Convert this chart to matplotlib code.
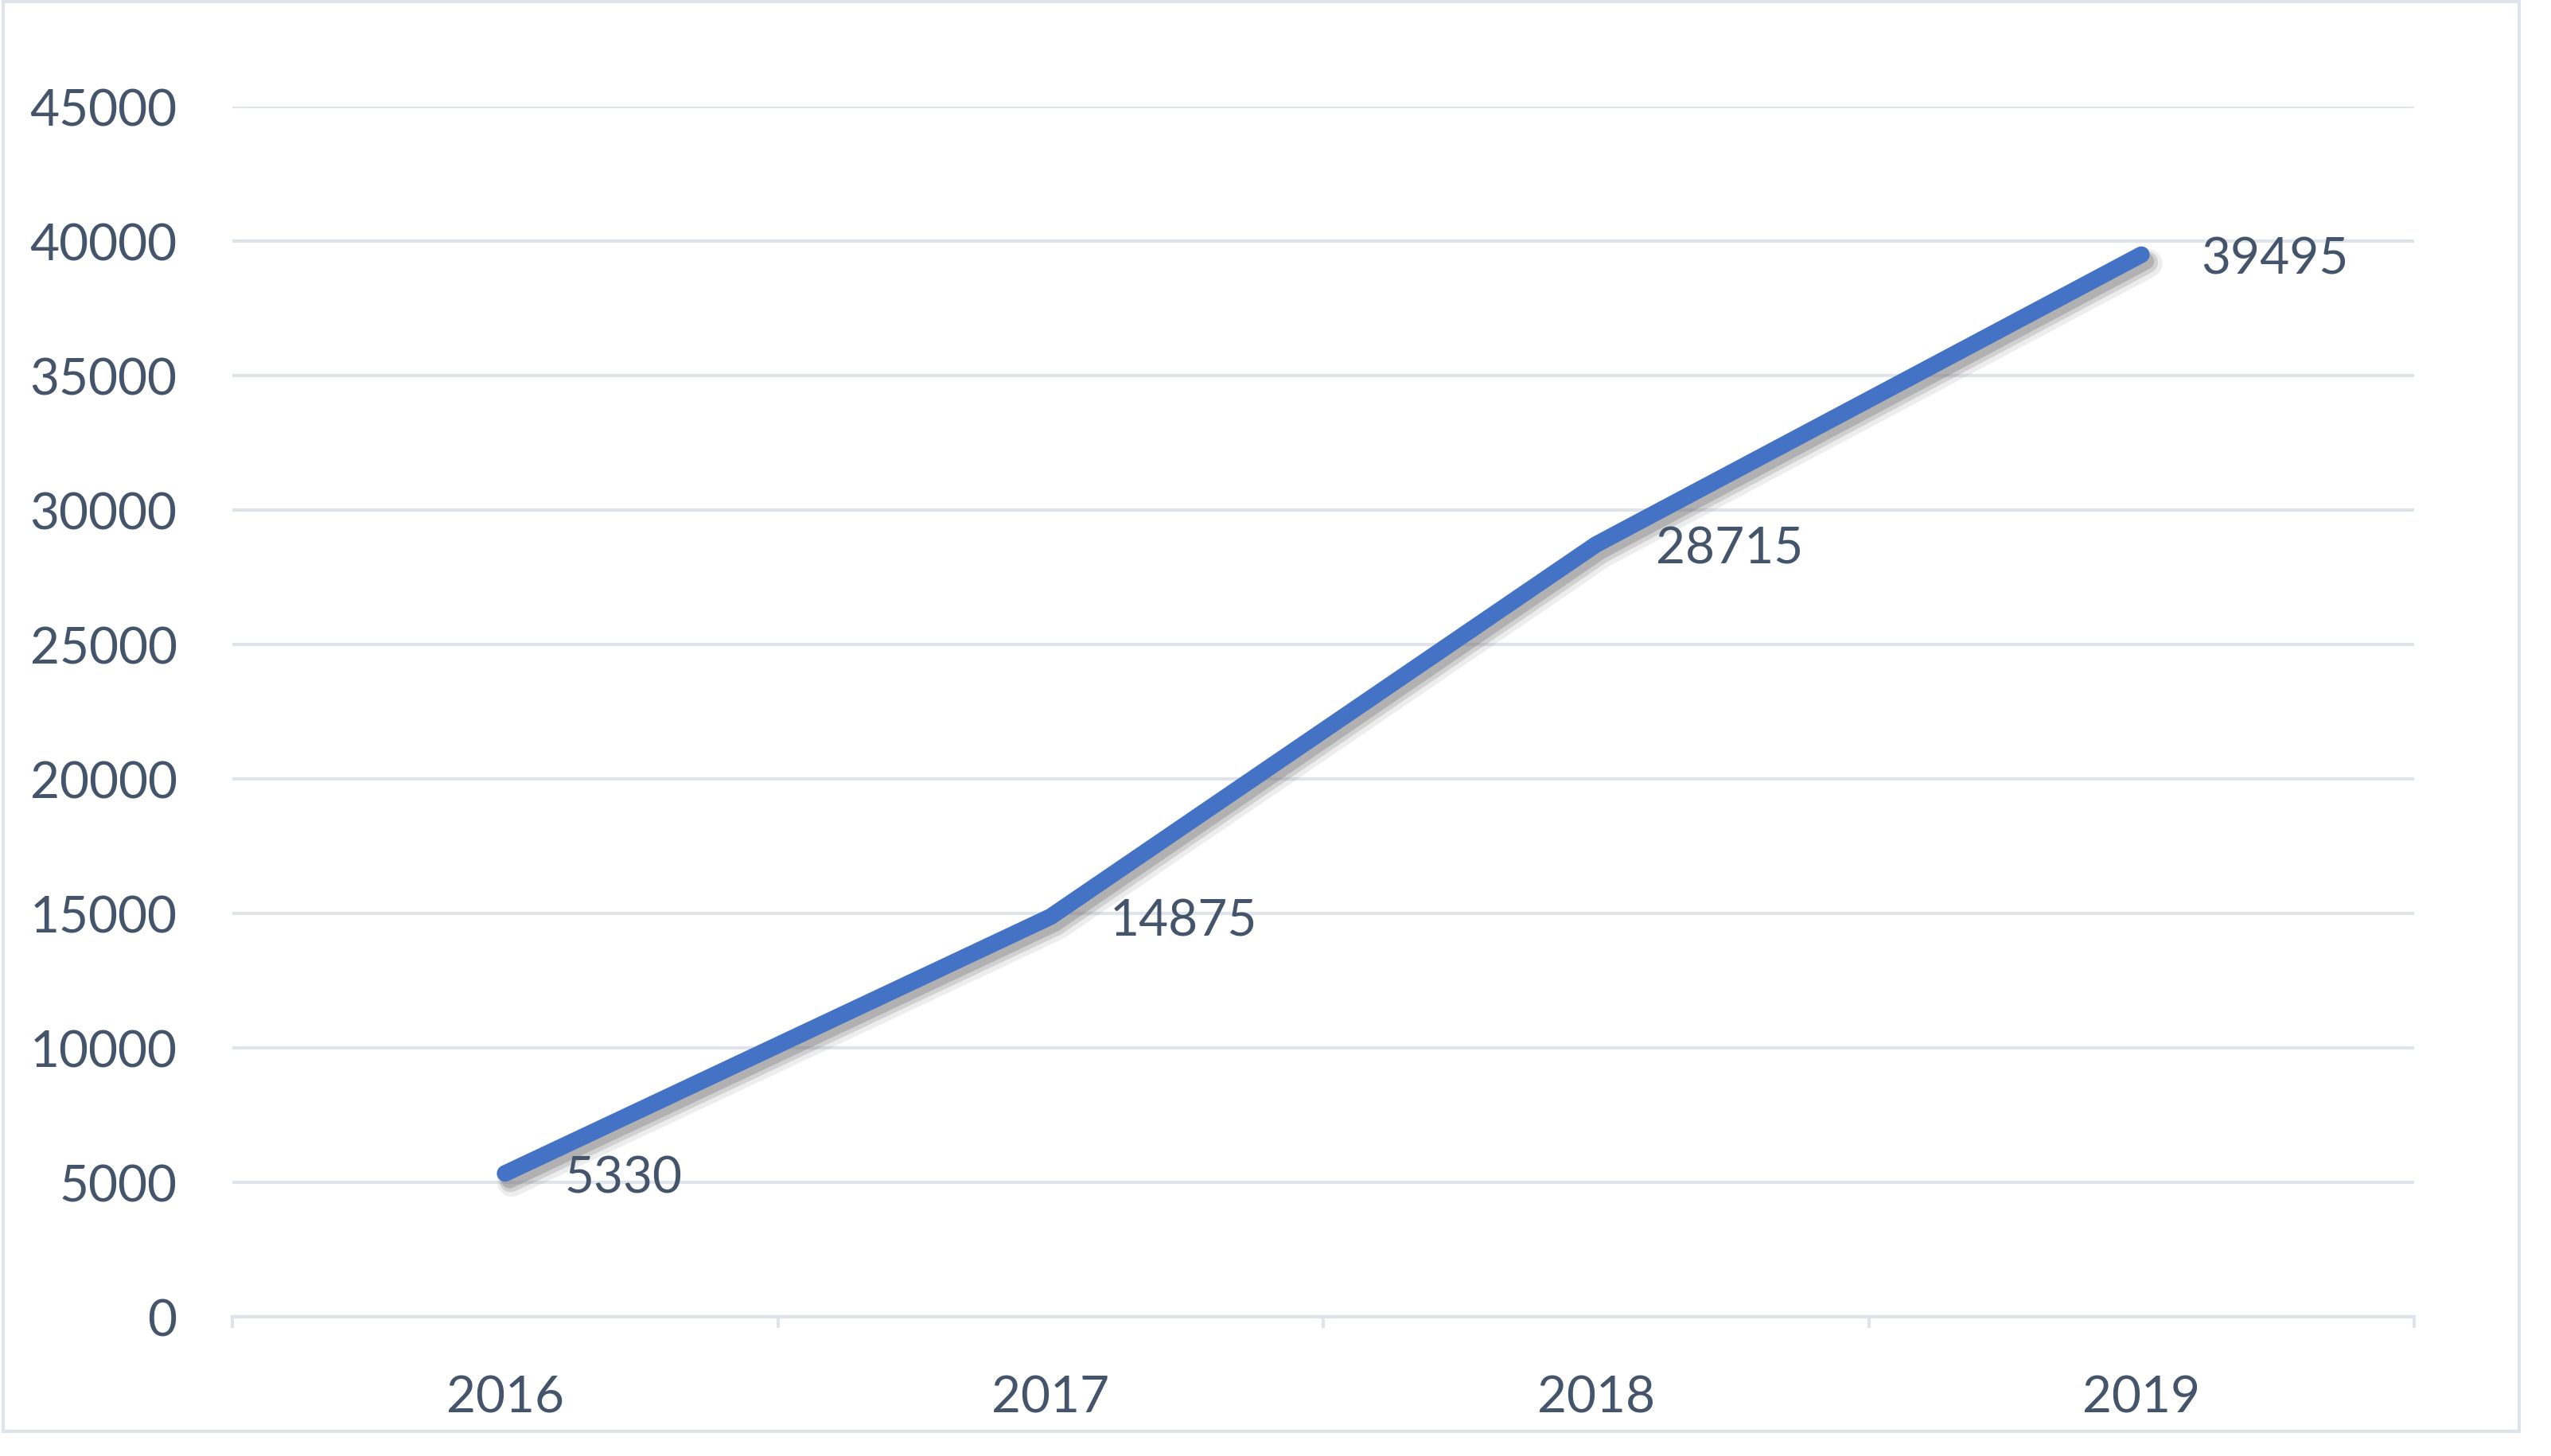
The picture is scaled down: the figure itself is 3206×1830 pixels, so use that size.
import matplotlib
matplotlib.use("Agg")
import matplotlib.pyplot as plt
import matplotlib.patheffects as pe
from matplotlib.patches import Rectangle
from matplotlib.ticker import FixedLocator, NullFormatter

years = ["2016", "2017", "2018", "2019"]
values = [5330, 14875, 28715, 39495]
y_ticks = [0, 5000, 10000, 15000, 20000, 25000, 30000, 35000, 40000, 45000]

W, H = 3206, 1831
fig = plt.figure(figsize=(W / 100, H / 100), dpi=100)
plt.rcParams['font.family'] = ['Lato', 'DejaVu Sans']

text_color = "#44546A"
grid_color = "#DFE3EA"
line_color = "#4472C4"
fs = 46

# outer border
fig.patches.append(Rectangle((4 / W, 1 - 1800 / H), (3166 - 4) / W, (1800 - 3) / H,
                             transform=fig.transFigure, fill=False,
                             edgecolor=grid_color, linewidth=3))

ax = fig.add_axes([292 / W, 1 - 1656 / H, (3034 - 292) / W, (1656 - 135) / H])
x = list(range(len(years)))
ax.plot(x, values, color=line_color, linewidth=15, solid_capstyle="round",
        solid_joinstyle="miter",
        path_effects=[pe.SimpleLineShadow(offset=(6, -8), shadow_color="#8a8a8a", alpha=0.15, linewidth=26),
                      pe.SimpleLineShadow(offset=(5, -7), shadow_color="#7f7f7f", alpha=0.25, linewidth=20),
                      pe.SimpleLineShadow(offset=(4, -6), shadow_color="#777777", alpha=0.35, linewidth=15),
                      pe.Normal()], zorder=3)

for xi, v in zip(x, values):
    ax.annotate(str(v), (xi, v), xytext=(54, -4), textcoords="offset points",
                ha="left", va="center", fontsize=fs, color=text_color, zorder=4)

ax.set_xlim(-0.5, len(years) - 0.5)
ax.set_ylim(0, 45000)
ax.set_yticks(y_ticks)
ax.set_yticklabels([str(t) for t in y_ticks])
ax.yaxis.grid(True, color=grid_color, linewidth=3)
ax.set_axisbelow(True)
ax.tick_params(axis="y", length=0, pad=50, labelsize=fs, labelcolor=text_color)

ax.set_xticks(x)
ax.set_xticklabels(years)
ax.xaxis.set_minor_locator(FixedLocator([i - 0.5 for i in range(len(years) + 1)]))
ax.xaxis.set_minor_formatter(NullFormatter())
ax.tick_params(axis="x", which="major", length=0, pad=52, labelsize=fs, labelcolor=text_color)
ax.tick_params(axis="x", which="minor", length=10, width=3, color=grid_color, direction="out")

for s in ["top", "right", "left"]:
    ax.spines[s].set_visible(False)
ax.spines["bottom"].set_color(grid_color)
ax.spines["bottom"].set_linewidth(3)

fig.savefig("out.png", dpi=100, facecolor="white")
